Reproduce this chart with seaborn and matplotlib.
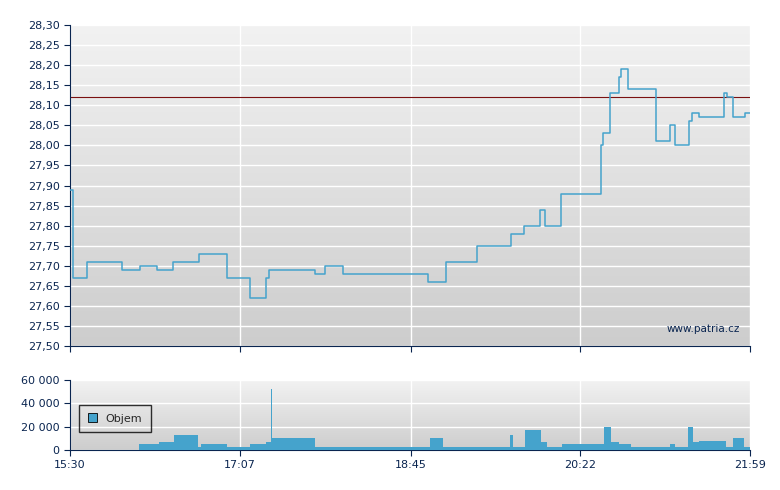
import numpy as np
import pandas as pd
import seaborn as sns
import matplotlib.pyplot as plt

# minutes since 15:30 and price, step series
price_min = [0, 2, 10, 30, 40, 50, 59, 74, 90, 103, 112, 114, 140, 146, 156, 205, 215, 233,
             252, 260, 269, 272, 281, 304, 305, 309, 314, 315, 316, 319, 335, 343, 346, 354,
             356, 360, 374, 376, 379, 386, 389]
price = [27.89, 27.67, 27.71, 27.69, 27.70, 27.69, 27.71, 27.73, 27.67, 27.62, 27.67, 27.69,
         27.68, 27.70, 27.68, 27.66, 27.71, 27.75, 27.78, 27.80, 27.84, 27.80, 27.88, 28.00,
         28.03, 28.13, 28.17, 28.19, 28.19, 28.14, 28.01, 28.05, 28.00, 28.06, 28.08, 28.07,
         28.13, 28.12, 28.07, 28.08, 28.08]
ref_price = 28.12

vol_min = [39.4, 50.7, 59.4, 73, 74.9, 89.6, 103.2, 112.4, 115, 115.6, 140, 205.7, 213.5,
           251.6, 253.5, 260.3, 269.2, 272.6, 281.3, 305.5, 309.4, 314.1, 320.7, 343, 346.2,
           353.5, 356.2, 360.1, 375, 379, 385.6, 389]
volume = [5200, 7200, 13000, 2300, 5200, 2300, 5200, 7200, 52000, 10000, 2300, 10000, 2300,
          13000, 2300, 17300, 7200, 2300, 5200, 20000, 7200, 5200, 2300, 5200, 2300, 20000,
          7200, 8000, 2300, 10000, 2300, 2300]

tick_pos = [0, 97, 195, 292, 389]
tick_lab = ["15:30", "17:07", "18:45", "20:22", "21:59"]

sns.set_style("white")
plt.rcParams['font.family'] = ['DejaVu Sans']
fig = plt.figure(figsize=(7.8, 4.9), dpi=100)
ax1 = fig.add_axes([70/780, 1-346/490, 680/780, 321/490])
ax2 = fig.add_axes([70/780, 1-450/490, 680/780, 70/490])
navy = "#0a2550"

def style(ax, ylim, yticks, ylabels):
    grad = np.linspace(0, 1, 256).reshape(-1, 1)
    ax.imshow(grad, extent=[0, 389, ylim[0], ylim[1]], aspect='auto',
              cmap=plt.matplotlib.colors.LinearSegmentedColormap.from_list("g", ["#f2f2f2", "#cdcdcd"]),
              origin='upper', zorder=0)
    ax.set_xlim(0, 389)
    ax.set_ylim(*ylim)
    ax.set_yticks(yticks)
    ax.set_yticklabels(ylabels, fontsize=8, color=navy)
    ax.set_xticks(tick_pos)
    ax.grid(True, color="white", lw=1, zorder=1)
    for s in ["top", "right"]:
        ax.spines[s].set_visible(False)
    for s in ["left", "bottom"]:
        ax.spines[s].set_color(navy)
    ax.tick_params(axis='both', direction='out', length=4, color=navy, left=True, bottom=True)
    ax.set_xlabel("")
    ax.set_ylabel("")

df = pd.DataFrame({"t": price_min, "p": price})
yt = np.round(np.arange(27.50, 28.301, 0.05), 2)
style(ax1, (27.50, 28.30), yt, [f"{v:.2f}".replace(".", ",") for v in yt])
ax1.axhline(ref_price, color="#7a1010", lw=0.8, zorder=2)
sns.lineplot(data=df, x="t", y="p", drawstyle="steps-post", color="#45a3cc", lw=1.1, ax=ax1, zorder=3)
ax1.set_xticklabels([])
ax1.set_xlabel("")
ax1.set_ylabel("")
ax1.text(383, 27.535, "www.patria.cz", fontsize=7.5, color=navy, ha="right")

vt = [0, 20000, 40000, 60000]
style(ax2, (0, 60000), vt, ["0", "20 000", "40 000", "60 000"])
ax2.fill_between(vol_min, volume, step="post", color="#45a3cc", lw=0, zorder=3, label="Objem")
ax2.set_xticklabels(tick_lab, fontsize=8, color=navy)
leg = ax2.legend(loc="center left", bbox_to_anchor=(0.005, 0.45), fontsize=8, frameon=True,
                 fancybox=False, handlelength=0.8, handleheight=0.8, borderpad=0.8)
leg.get_frame().set_edgecolor("black")
leg.get_frame().set_facecolor("none")
for h in leg.legend_handles:
    h.set_edgecolor("black")
    h.set_linewidth(0.6)

fig.savefig("out.png", dpi=100)
